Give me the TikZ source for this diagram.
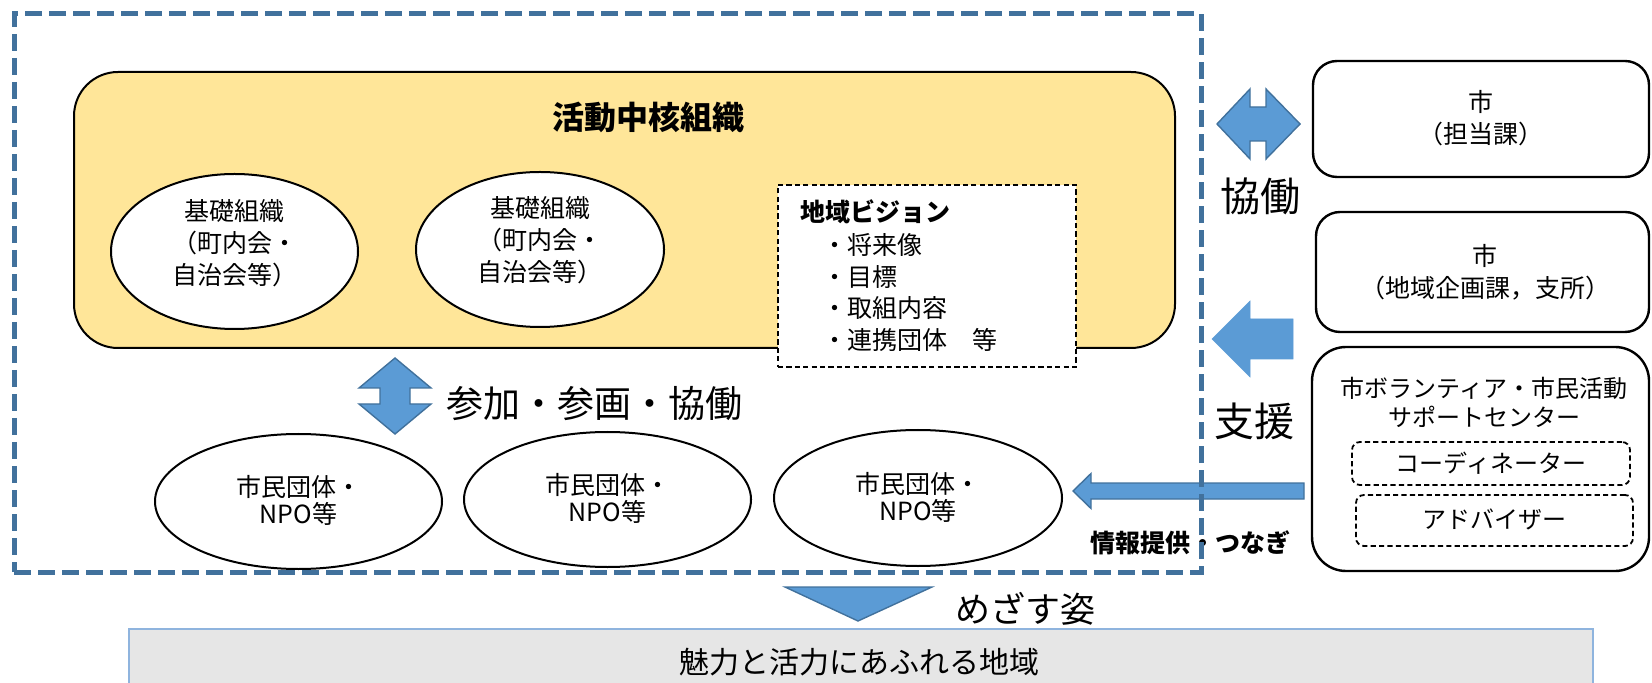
\documentclass[tikz,border=0pt]{standalone}
\usepackage{fontspec}
\setmainfont{Noto Sans CJK JP}
\usetikzlibrary{shapes.geometric}
\definecolor{dashblue}{HTML}{41719C}
\definecolor{arrowfill}{HTML}{5B9BD5}
\definecolor{arrowline}{HTML}{41719C}
\definecolor{coreyellow}{HTML}{FFE699}
\definecolor{grayfill}{HTML}{E6E6E6}
\definecolor{grayline}{HTML}{8FB4DE}
\newcommand\fsz[2]{\fontsize{#1}{#2}\selectfont}
\begin{document}
\begin{tikzpicture}[x=0.5pt,y=-0.5pt,
  outerbox/.style={draw=dashblue, line width=2.5pt, dash pattern=on 8.5pt off 3.5pt, inner sep=0pt},
  corebox/.style={draw=black, line width=1pt, fill=coreyellow, rounded corners=22pt, inner sep=0pt},
  oval/.style={ellipse, draw=black, line width=1pt, fill=white, inner sep=0pt},
  visionbox/.style={draw=black, line width=0.9pt, dash pattern=on 2.6pt off 1.6pt, fill=white, inner sep=0pt},
  citybox/.style={draw=black, line width=1.2pt, fill=white, rounded corners=12pt, inner sep=0pt},
  innerbox/.style={draw=black, line width=0.9pt, dash pattern=on 2.6pt off 1.6pt, rounded corners=4pt, inner sep=0pt},
  goalbox/.style={draw=grayline, line width=0.6pt, fill=grayfill, inner sep=0pt},
  blockarrow/.style={fill=arrowfill, draw=arrowline, line width=0.7pt, line join=miter},
  flatarrow/.style={fill=arrowfill, draw=arrowfill, line width=0.3pt},
  txt/.style={inner sep=0pt, align=center, font=\fsz{12.5}{16}},
]
\useasboundingbox (0,0) rectangle (1652,683);

% core organisation
\node[corebox, minimum width=550.5pt, minimum height=138pt] (core) at (624.5,210) {};
\node[txt, font=\fsz{16}{19}\bfseries] (coretitle) at (648,117) {活動中核組織};

\node[oval, minimum width=123.5pt, minimum height=77.5pt] (base1) at (234.5,251.5) {};
\node[txt] (base1t) at (234.5,243) {基礎組織\\（町内会・\\自治会等）};
\node[oval, minimum width=124pt, minimum height=77.5pt] (base2) at (540,249.5) {};
\node[txt] (base2t) at (540,240) {基礎組織\\（町内会・\\自治会等）};

\node[visionbox, minimum width=149pt, minimum height=91pt] (vision) at (927,276) {};
\node[txt, anchor=west, font=\fsz{12.5}{16}\bfseries] (visiont) at (800,212) {地域ビジョン};
\node[txt, anchor=west] (v1) at (822,245) {・将来像};
\node[txt, anchor=west] (v2) at (822,277) {・目標};
\node[txt, anchor=west] (v3) at (822,308) {・取組内容};
\node[txt, anchor=west] (v4) at (822,340) {・連携団体　等};

% participation arrow
\draw[blockarrow] (395,358) -- (431,388) -- (410,388) -- (410,404) -- (431,404)
  -- (395,434) -- (359,404) -- (380,404) -- (380,388) -- (359,388) -- cycle;
\node[txt, anchor=west, font=\fsz{18.5}{22}] (partt) at (446,404) {参加・参画・協働};

% citizen groups
\node[oval, minimum width=143.5pt, minimum height=67.5pt] (npo1) at (298.5,501.5) {};
\node[txt, font=\fsz{12.5}{13.5}] (npo1t) at (298.5,500.5) {市民団体・\\NPO等};
\node[oval, minimum width=143.5pt, minimum height=67.5pt] (npo2) at (607.5,499.5) {};
\node[txt, font=\fsz{12.5}{13.5}] (npo2t) at (607.5,498.5) {市民団体・\\NPO等};
\node[oval, minimum width=144pt, minimum height=68pt] (npo3) at (918,498) {};
\node[txt, font=\fsz{12.5}{13.5}] (npo3t) at (918,497) {市民団体・\\NPO等};

% arrows from the right
\draw[blockarrow] (1217,124) -- (1250,89) -- (1250,107) -- (1266,107) -- (1266,89)
  -- (1300,124) -- (1266,159) -- (1266,141) -- (1250,141) -- (1250,159) -- cycle;
\node[txt, font=\fsz{20}{24}] (kyodo) at (1260,196) {協働};
\draw[flatarrow] (1212,339) -- (1250,301) -- (1250,319) -- (1293,319) -- (1293,359)
  -- (1250,359) -- (1250,377) -- cycle;
\node[txt, font=\fsz{20}{24}] (shien) at (1254,421) {支援};
\draw[blockarrow] (1073,491) -- (1091,473.5) -- (1091,483) -- (1304,483) -- (1304,499)
  -- (1091,499) -- (1091,508.5) -- cycle;
\node[txt, font=\fsz{12.5}{15}\bfseries] (infot) at (1190,543) {情報提供・つなぎ};

% dashed region
\node[outerbox, minimum width=593.5pt, minimum height=279pt] (region) at (607.5,293) {};

% city boxes
\node[citybox, minimum width=168pt, minimum height=58pt] (city1) at (1481,119) {};
\node[txt] (city1t) at (1481,118) {市\\（担当課）};
\node[citybox, minimum width=166.5pt, minimum height=60pt] (city2) at (1482.5,272) {};
\node[txt] (city2t) at (1485,272.5) {市\\（地域企画課，支所）};
\node[citybox, rounded corners=17pt, minimum width=168.5pt, minimum height=112pt] (center) at (1480.5,459) {};
\node[txt, font=\fsz{12}{14.5}] (centert) at (1484,402.5) {市ボランティア・市民活動\\サポートセンター};
\node[innerbox, minimum width=139pt, minimum height=21.5pt] (coord) at (1491,463.5) {};
\node[txt, font=\fsz{12}{14.5}] (coordt) at (1491,463.5) {コーディネーター};
\node[innerbox, minimum width=138.5pt, minimum height=25.5pt] (advisor) at (1494.5,520.5) {};
\node[txt, font=\fsz{12}{14.5}] (advisort) at (1494.5,519.5) {アドバイザー};

% goal
\draw[blockarrow] (785,587) -- (932,587) -- (858,621) -- cycle;
\node[txt, anchor=west, font=\fsz{17.5}{20}] (goallabel) at (955,609) {めざす姿};
\node[goalbox, minimum width=732pt, minimum height=29.5pt] (goal) at (861,658.5) {};
\node[txt, font=\fsz{15}{18}] (goalt) at (859,662) {魅力と活力にあふれる地域};
\end{tikzpicture}
\end{document}
